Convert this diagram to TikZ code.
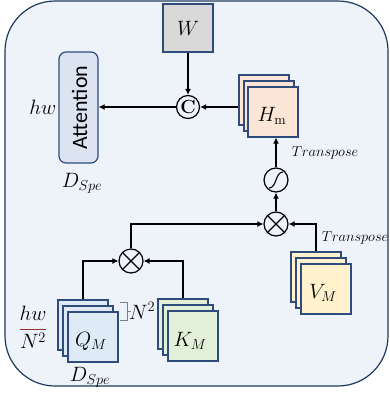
\documentclass[tikz,border=0pt]{standalone}
\usepackage{graphicx}
\usepackage{fontspec}
\newfontfamily\calib{Carlito}
\usetikzlibrary{arrows.meta,calc}
\definecolor{bgc}{HTML}{EEF2F9}
\definecolor{navy}{HTML}{1F3A5F}
\definecolor{sqb}{HTML}{2F4B7C}
\definecolor{attc}{HTML}{DCE4F2}
\definecolor{wc}{HTML}{D9D9D9}
\definecolor{hc}{HTML}{FBE5D6}
\definecolor{vc}{HTML}{FFF2CC}
\definecolor{qc}{HTML}{DEEBF7}
\definecolor{kc}{HTML}{E2F0D9}
\definecolor{frc}{HTML}{8B3A2A}
\begin{document}
\begin{tikzpicture}[x=1pt,y=-1pt,
  every node/.style={font=\fontsize{20}{23}\selectfont},
  arr/.style={line width=1.6pt,-{Latex[length=6pt,width=6pt]}},
  sq/.style={draw=sqb,line width=1.2pt,minimum size=50pt,inner sep=0pt},
  opc/.style={circle,draw=black,line width=1.2pt,minimum size=24pt,inner sep=0pt},
  tlabel/.style={font=\fontsize{15}{17}\selectfont}]
\useasboundingbox (0,0) rectangle (389,394);
\draw[line width=1.2pt,draw=navy,fill=bgc,rounded corners=50pt] (5,1) rectangle (388,386);

% W
\node[draw=sqb,line width=1.2pt,fill=wc,minimum width=50pt,minimum height=48pt] (wbox) at (188,28) {$W$};
% C circle
\node[opc,minimum size=23pt] (cc) at (188,107) {\fontsize{19}{19}\selectfont\bfseries C};
% Attention
\node[draw=sqb,line width=1.2pt,fill=attc,rounded corners=7pt,minimum width=39pt,minimum height=111pt] (att) at (78.5,107.5) {};
\node[inner sep=0pt,font=\calib\fontsize{22}{24}\selectfont] (atttext) at ([xshift=1pt]att.center) {\rotatebox{90}{Attention}};
\node[anchor=east,inner sep=0pt] (hwlab) at ([xshift=-2pt]att.west) {$hw$};
\node (dspe1) at (82,183) {$D_{Spe}$};

% H stack
\node[sq,fill=hc] (h1) at (264,100) {};
\node[sq,fill=hc] (h2) at (269,106) {};
\node[sq,fill=hc] (h3) at (273,112) {};
\node (htext) at (272,116) {$H_{\mathrm{m}}$};

% sigmoid and otimes
\node[opc] (sig) at (276,180) {};
\draw[line width=1.1pt] ($(sig)+(-7,8)$) .. controls ($(sig)+(1,8)$) and ($(sig)+(-1,-8)$) .. ($(sig)+(7,-8)$);
\node[opc] (ot2) at (276,224) {};
\draw[line width=1.1pt] ($(ot2)+(-8.5,-8.5)$) -- ($(ot2)+(8.5,8.5)$) ($(ot2)+(-8.5,8.5)$) -- ($(ot2)+(8.5,-8.5)$);
\node[opc] (ot1) at (131,261) {};
\draw[line width=1.1pt] ($(ot1)+(-8.5,-8.5)$) -- ($(ot1)+(8.5,8.5)$) ($(ot1)+(-8.5,8.5)$) -- ($(ot1)+(8.5,-8.5)$);

% V stack
\node[sq,fill=vc] (v1) at (316,277) {};
\node[sq,fill=vc] (v2) at (321,283) {};
\node[sq,fill=vc] (v3) at (326,289) {};
\node (vtext) at (323,293) {$V_M$};

% Q stack
\node[sq,fill=qc] (q1) at (83,325) {};
\node[sq,fill=qc] (q2) at (88,331) {};
\node[sq,fill=qc] (q3) at (93,337) {};
\node (qtext) at (91,341) {$Q_M$};

% K stack
\node[sq,fill=kc] (k1) at (183,324) {};
\node[sq,fill=kc] (k2) at (188,330) {};
\node[sq,fill=kc] (k3) at (193,336) {};
\node (ktext) at (190,341) {$K_M$};

% labels
\node[tlabel] (tr1) at (325,153) {$Transpose$};
\node[tlabel] (tr2) at (355,238) {$Transpose$};
\node (dspe2) at (90,377) {$D_{Spe}$};
\node (frac) at (33,327) {$\color{frc}\displaystyle\frac{\color{black}hw}{\color{black}N^2}$};
\draw[gray,line width=0.8pt] (120,302) -- (127,302) -- (127,320) -- (120,320) (127,311) -- (131,311);
\node[anchor=west,inner sep=0pt] (n2) at (129,311) {$N^2$};

% connectors
\draw[arr] (wbox.south) -- (cc.north);
\draw[arr] (h1.west |- cc) -- (cc.east);
\draw[arr] (cc.west) -- (att.east |- cc);
\draw[arr] (sig.north) -- (sig.north |- h3.south);
\draw[arr] (ot2.north) -- (sig.south);
\draw[arr] (ot1.north) |- (ot2.west);
\draw[arr] (v1.north) |- (ot2.east);
\draw[arr] (q1.north) |- (ot1.west);
\draw[arr] (k1.north) |- (ot1.east);
\end{tikzpicture}
\end{document}
